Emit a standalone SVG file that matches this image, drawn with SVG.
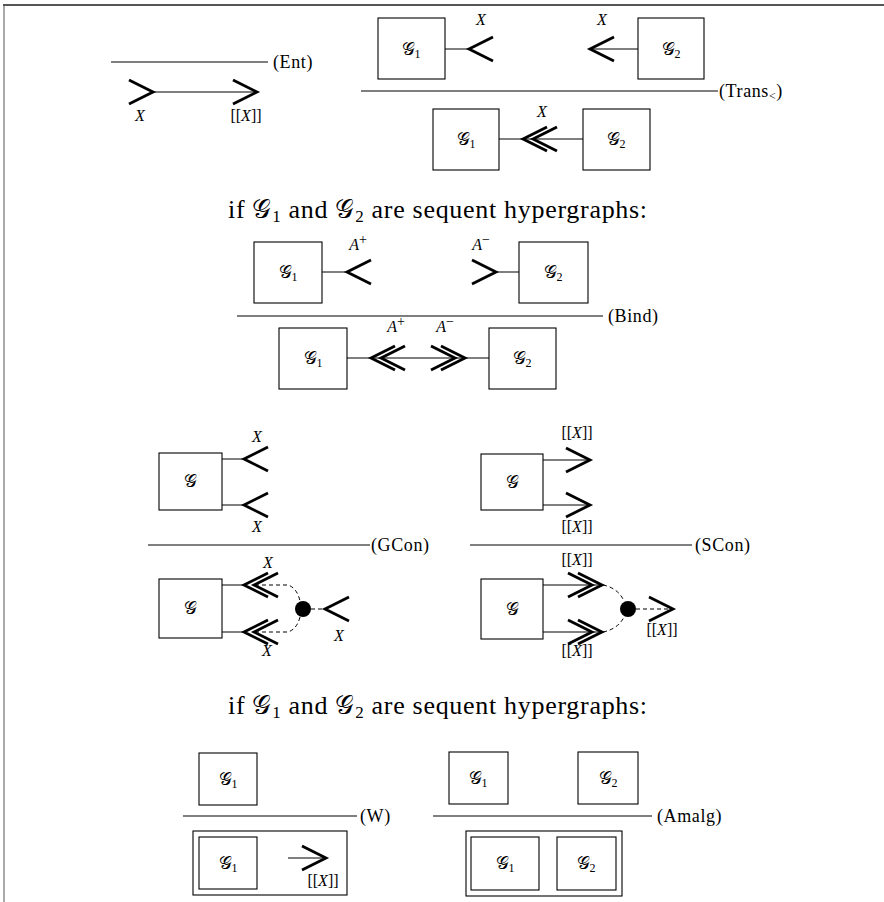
<svg xmlns="http://www.w3.org/2000/svg" width="884" height="902" viewBox="0 0 884 902">
  <style>
    .frame { fill: none; stroke: #555; }
    .box { fill: none; stroke: #000; stroke-width: 1.1; }
    .rule { stroke: #000; stroke-width: 1.2; }
    .wire { stroke: #000; stroke-width: 1; fill: none; }
    .dash { fill: none; stroke: #000; stroke-width: 1; stroke-dasharray: 4 3; }
    .chev { fill: none; stroke: #000; stroke-width: 2.8; stroke-linejoin: miter; }
    text { font-family: "Liberation Serif", "DejaVu Serif", serif; fill: #000; }
    .lbl { font-size: 16px; text-anchor: middle; }
    .g { font-size: 18px; text-anchor: middle; }
    .it { font-style: italic; }
    .sup { font-size: 14px; font-style: normal; }
    .name { font-size: 18px; letter-spacing: 0.6px; }
    .big { font-size: 26px; letter-spacing: 0.7px; }
  </style>
  <defs>
    <!-- single and double open arrowheads; tip at the origin -->
    <path id="chL" class="chev" d="M24,-12 L0,0 L24,12"/>
    <path id="chR" class="chev" d="M-24,-12 L0,0 L-24,12"/>
    <path id="dchL" class="chev" d="M24,-12 L0,0 L24,12 M34,-12 L10,0 L34,12"/>
    <path id="dchR" class="chev" d="M-24,-12 L0,0 L-24,12 M-34,-12 L-10,0 L-34,12"/>
  </defs>

  <!-- page frame -->
  <path class="frame" stroke-width="2" d="M3,5 H884"/>
  <path class="frame" stroke-width="1" d="M4,5 V902"/>

  <!-- rule lines and rule names -->
  <g id="rules">
    <line class="rule" x1="111" y1="62" x2="268" y2="62"/>
    <text class="name" x="273" y="68">(Ent)</text>
    <line class="rule" x1="361" y1="91" x2="718" y2="91"/>
    <text class="name" x="719" y="97">(Trans<tspan font-size="12" dy="3">&lt;</tspan><tspan dy="-3">)</tspan></text>
    <line class="rule" x1="237" y1="316" x2="603" y2="316"/>
    <text class="name" x="608" y="322">(Bind)</text>
    <line class="rule" x1="148" y1="545" x2="370" y2="545"/>
    <text class="name" x="371" y="551">(GCon)</text>
    <line class="rule" x1="470" y1="545" x2="692" y2="545"/>
    <text class="name" x="695" y="551">(SCon)</text>
    <line class="rule" x1="183" y1="816" x2="357" y2="816"/>
    <text class="name" x="360" y="822">(W)</text>
    <line class="rule" x1="433" y1="816" x2="652" y2="816"/>
    <text class="name" x="657" y="822">(Amalg)</text>
  </g>

  <!-- side conditions -->
  <text class="big" x="228" y="218">if 𝒢<tspan font-size="17" dy="4">1</tspan><tspan dy="-4"> and 𝒢</tspan><tspan font-size="17" dy="4">2</tspan><tspan dy="-4"> are sequent hypergraphs:</tspan></text>
  <text class="big" x="228" y="714">if 𝒢<tspan font-size="17" dy="4">1</tspan><tspan dy="-4"> and 𝒢</tspan><tspan font-size="17" dy="4">2</tspan><tspan dy="-4"> are sequent hypergraphs:</tspan></text>

  <!-- hypergraph nodes -->
  <g id="trans-top-g1"><rect class="box" x="378" y="18" width="67" height="61"/><text class="g" x="411" y="55">𝒢<tspan font-size="12" dy="3">1</tspan></text></g>
  <g id="trans-top-g2"><rect class="box" x="638" y="18" width="66" height="61"/><text class="g" x="671" y="55">𝒢<tspan font-size="12" dy="3">2</tspan></text></g>
  <g id="trans-bot-g1"><rect class="box" x="433" y="109" width="66" height="61"/><text class="g" x="466" y="145">𝒢<tspan font-size="12" dy="3">1</tspan></text></g>
  <g id="trans-bot-g2"><rect class="box" x="583" y="109" width="67" height="61"/><text class="g" x="616" y="145">𝒢<tspan font-size="12" dy="3">2</tspan></text></g>

  <g id="bind-top-g1"><rect class="box" x="254" y="242" width="68" height="61"/><text class="g" x="288" y="278">𝒢<tspan font-size="12" dy="3">1</tspan></text></g>
  <g id="bind-top-g2"><rect class="box" x="519" y="242" width="69" height="61"/><text class="g" x="553" y="278">𝒢<tspan font-size="12" dy="3">2</tspan></text></g>
  <g id="bind-bot-g1"><rect class="box" x="279" y="328" width="68" height="61"/><text class="g" x="313" y="364">𝒢<tspan font-size="12" dy="3">1</tspan></text></g>
  <g id="bind-bot-g2"><rect class="box" x="489" y="328" width="67" height="61"/><text class="g" x="522" y="364">𝒢<tspan font-size="12" dy="3">2</tspan></text></g>

  <g id="gcon-top-g"><rect class="box" x="159" y="453" width="63" height="57"/><text class="g" x="190" y="487">𝒢</text></g>
  <g id="gcon-bot-g"><rect class="box" x="159" y="579" width="63" height="59"/><text class="g" x="190" y="614">𝒢</text></g>
  <g id="scon-top-g"><rect class="box" x="481" y="454" width="62" height="56"/><text class="g" x="512" y="488">𝒢</text></g>
  <g id="scon-bot-g"><rect class="box" x="481" y="579" width="62" height="60"/><text class="g" x="512" y="615">𝒢</text></g>

  <g id="w-top-g1"><rect class="box" x="199" y="753" width="58" height="52"/><text class="g" x="228" y="785">𝒢<tspan font-size="12" dy="3">1</tspan></text></g>
  <g id="w-bot">
    <rect class="box" x="193" y="831" width="154" height="64"/>
    <rect class="box" x="199" y="837" width="58" height="52"/>
    <text class="g" x="228" y="869">𝒢<tspan font-size="12" dy="3">1</tspan></text>
  </g>

  <g id="amalg-top-g1"><rect class="box" x="449" y="752" width="59" height="52"/><text class="g" x="478" y="784">𝒢<tspan font-size="12" dy="3">1</tspan></text></g>
  <g id="amalg-top-g2"><rect class="box" x="578" y="752" width="60" height="52"/><text class="g" x="608" y="784">𝒢<tspan font-size="12" dy="3">2</tspan></text></g>
  <g id="amalg-bot">
    <rect class="box" x="466" y="831" width="156" height="65"/>
    <rect class="box" x="471" y="837" width="68" height="53"/>
    <text class="g" x="505" y="869">𝒢<tspan font-size="12" dy="3">1</tspan></text>
    <rect class="box" x="557" y="837" width="59" height="53"/>
    <text class="g" x="586" y="869">𝒢<tspan font-size="12" dy="3">2</tspan></text>
  </g>

  <!-- contraction dots -->
  <g id="gcon-dot"><circle cx="303" cy="609" r="8" fill="#000"/></g>
  <g id="scon-dot"><circle cx="628" cy="609" r="8" fill="#000"/></g>

  <!-- connectors: wires, arrowheads and their labels -->
  <g id="connectors">
    <!-- Ent -->
    <line class="wire" x1="153" y1="92" x2="257" y2="92"/>
    <use href="#chR" x="153" y="92"/>
    <use href="#chR" x="257" y="92"/>
    <text class="lbl it" x="140" y="121">X</text>
    <text class="lbl" x="246" y="121">[[<tspan class="it">X</tspan>]]</text>

    <!-- Trans premises -->
    <line class="wire" x1="445" y1="49" x2="469" y2="49"/>
    <use href="#chL" x="469" y="49"/>
    <text class="lbl it" x="481" y="25">X</text>
    <line class="wire" x1="590" y1="49" x2="638" y2="49"/>
    <use href="#chL" x="590" y="49"/>
    <text class="lbl it" x="602" y="25">X</text>
    <!-- Trans conclusion -->
    <line class="wire" x1="499" y1="139" x2="583" y2="139"/>
    <use href="#dchL" x="523" y="139"/>
    <text class="lbl it" x="542" y="117">X</text>

    <!-- Bind premises -->
    <line class="wire" x1="322" y1="272" x2="347" y2="272"/>
    <use href="#chL" x="347" y="272"/>
    <text class="lbl it" x="358" y="250">A<tspan class="sup" dy="-6">+</tspan></text>
    <line class="wire" x1="496" y1="272" x2="519" y2="272"/>
    <use href="#chR" x="496" y="272"/>
    <text class="lbl it" x="481" y="250">A<tspan class="sup" dy="-6">−</tspan></text>
    <!-- Bind conclusion -->
    <line class="wire" x1="347" y1="358" x2="489" y2="358"/>
    <use href="#dchL" x="371" y="358"/>
    <use href="#dchR" x="465" y="358"/>
    <text class="lbl it" x="396" y="332">A<tspan class="sup" dy="-6">+</tspan></text>
    <text class="lbl it" x="445" y="332">A<tspan class="sup" dy="-6">−</tspan></text>

    <!-- GCon premise -->
    <line class="wire" x1="222" y1="459" x2="244" y2="459"/>
    <line class="wire" x1="222" y1="505" x2="244" y2="505"/>
    <use href="#chL" x="244" y="459"/>
    <use href="#chL" x="244" y="505"/>
    <text class="lbl it" x="257" y="442">X</text>
    <text class="lbl it" x="257" y="532">X</text>
    <!-- GCon conclusion -->
    <line class="wire" x1="222" y1="585" x2="244" y2="585"/>
    <line class="wire" x1="222" y1="632" x2="244" y2="632"/>
    <use href="#dchL" x="244" y="585"/>
    <use href="#dchL" x="244" y="632"/>
    <path class="dash" d="M255,585 H288 Q297,588 300,601"/>
    <path class="dash" d="M255,632 H288 Q297,629 300,617"/>
    <line class="dash" x1="311" y1="609" x2="325" y2="609"/>
    <use href="#chL" x="325" y="609"/>
    <text class="lbl it" x="268" y="568">X</text>
    <text class="lbl it" x="267" y="656">X</text>
    <text class="lbl it" x="339" y="641">X</text>

    <!-- SCon premise -->
    <line class="wire" x1="543" y1="460" x2="590" y2="460"/>
    <line class="wire" x1="543" y1="505" x2="590" y2="505"/>
    <use href="#chR" x="590" y="460"/>
    <use href="#chR" x="590" y="505"/>
    <text class="lbl" x="577" y="438">[[<tspan class="it">X</tspan>]]</text>
    <text class="lbl" x="577" y="532">[[<tspan class="it">X</tspan>]]</text>
    <!-- SCon conclusion -->
    <line class="wire" x1="543" y1="585" x2="602" y2="585"/>
    <line class="wire" x1="543" y1="632" x2="602" y2="632"/>
    <use href="#dchR" x="602" y="585"/>
    <use href="#dchR" x="602" y="632"/>
    <path class="dash" d="M603,585 Q618,588 624,601"/>
    <path class="dash" d="M603,632 Q618,629 624,617"/>
    <line class="dash" x1="636" y1="609" x2="673" y2="609"/>
    <use href="#chR" x="673" y="609"/>
    <text class="lbl" x="577" y="565">[[<tspan class="it">X</tspan>]]</text>
    <text class="lbl" x="577" y="656">[[<tspan class="it">X</tspan>]]</text>
    <text class="lbl" x="662" y="635">[[<tspan class="it">X</tspan>]]</text>

    <!-- W conclusion -->
    <line class="wire" x1="288" y1="858" x2="326" y2="858"/>
    <use href="#chR" x="326" y="858"/>
    <text class="lbl" x="323" y="886">[[<tspan class="it">X</tspan>]]</text>
  </g>
</svg>
